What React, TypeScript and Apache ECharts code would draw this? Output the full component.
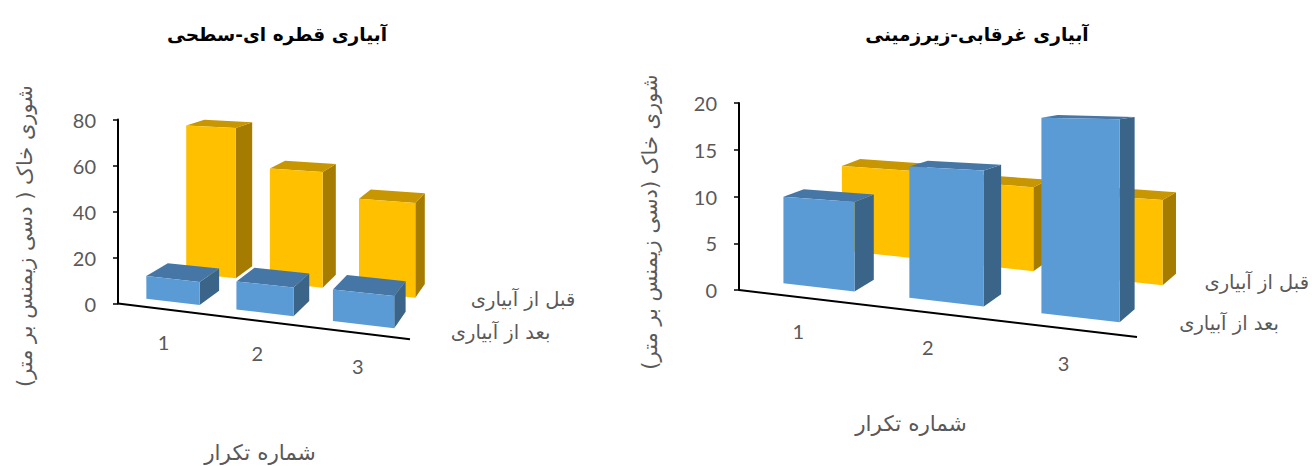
import React, { useEffect, useRef } from "react";
import * as echarts from "echarts";

// ---------- data ----------
const categories = ["1", "2", "3"];
// depth rows: row 0 = front (after irrigation), row 1 = back (before irrigation)
const rowNames = ["بعد از آبیاری", "قبل از آبیاری"];

const dripTitle = "آبیاری قطره ای-سطحی";
const dripBefore = [71, 53, 42];
const dripAfter = [10, 12, 13];
const dripAxis = { min: 0, max: 80, interval: 20 };
const dripYTitle = "شوری خاک ( دسی زیمنس بر متر)";

const floodTitle = "آبیاری غرقابی-زیرزمینی";
const floodBefore = [10.6, 9.7, 9.3];
const floodAfter = [9.5, 13.6, 19];
const floodAxis = { min: 0, max: 20, interval: 5 };
const floodYTitle = "شوری خاک (دسی زیمنس بر متر)";

const xTitle = "شماره تکرار";

// ---------- styling / view ----------
const PAL = {
  before: { front: "#FFC000", top: "#C79600", side: "#A67C00" },
  after: { front: "#5B9BD5", top: "#4676A6", side: "#3A6589" },
};
const GREY = "#595959";
const FA = "'DejaVu Sans', sans-serif";
const NUM = "Lato, 'Open Sans', sans-serif";

type Cfg = {
  theta: number; phi: number; d: number; dv: number;
  bw: number; bd: number; rd: number; zg: number;
  catOff: [number, number]; rowOff: [number, number][];
};

const leftCfg: Cfg = {
  theta: 24, phi: 16, d: 12, dv: 12, bw: 0.6, bd: 0.62, rd: 1.2, zg: 0.29,
  catOff: [1, 33], rowOff: [[80, 10], [84, 7]],
};
const rightCfg: Cfg = {
  theta: 25, phi: 14.7, d: 18, dv: 7.1, bw: 0.57, bd: 0.38, rd: 1.13, zg: 0.32,
  catOff: [-3, 34], rowOff: [[72, 4], [59, 0]],
};

function project(cfg: Cfg, O: number[], L: number, x: number, z: number, h: number) {
  const t = (cfg.theta * Math.PI) / 180;
  const p = (cfg.phi * Math.PI) / 180;
  const ct = Math.cos(t), st = Math.sin(t), sp = Math.sin(p);
  const s3 = cfg.d / (cfg.d - 3 * st);
  const F = L / (s3 * 3 * ct);
  const Xp = x * ct + z * st;
  const Dp = -x * st + z * ct;
  const s = cfg.d / (cfg.d + Dp);
  const sv = cfg.dv / (cfg.dv + Dp);
  return [O[0] + F * s * Xp, O[1] - F * s * Dp * sp - h * sv];
}

function frameOf(api: any) {
  const O = api.coord([0, 0]);
  const E = api.coord([3, 0]);
  return { O, L: E[0] - O[0] };
}

function barRenderer(cfg: Cfg, row: number, pal: { front: string; top: string; side: string }) {
  return (_params: any, api: any) => {
    const i = api.value(0) as number;
    const v = api.value(1) as number;
    const { O, L } = frameOf(api);
    const h = O[1] - api.coord([0, v])[1];
    const P = (x: number, z: number, hh: number) => project(cfg, O, L, x, z, hh);
    const x0 = i + (1 - cfg.bw) / 2, x1 = x0 + cfg.bw;
    const z0 = row * cfg.rd + cfg.zg, z1 = z0 + cfg.bd;
    const front = [P(x0, z0, 0), P(x1, z0, 0), P(x1, z0, h), P(x0, z0, h)];
    const side = [P(x1, z0, 0), P(x1, z1, 0), P(x1, z1, h), P(x1, z0, h)];
    const top = [P(x0, z0, h), P(x1, z0, h), P(x1, z1, h), P(x0, z1, h)];
    return {
      type: "group",
      children: [
        { type: "polygon", shape: { points: side }, style: { fill: pal.side } },
        { type: "polygon", shape: { points: top }, style: { fill: pal.top } },
        { type: "polygon", shape: { points: front }, style: { fill: pal.front } },
      ],
    };
  };
}

function frameRenderer(cfg: Cfg) {
  return (_params: any, api: any) => {
    const i = api.value(0) as number;
    const { O, L } = frameOf(api);
    const c = project(cfg, O, L, i + 0.5, 0, 0);
    const children: any[] = [
      {
        type: "text",
        x: c[0] + cfg.catOff[0],
        y: c[1] + cfg.catOff[1],
        style: {
          text: categories[i], fill: GREY, font: `20px ${NUM}`,
          align: "center", verticalAlign: "middle",
        },
      },
    ];
    if (i === 0) {
      const e = project(cfg, O, L, 3, 0, 0);
      children.unshift({
        type: "line",
        shape: { x1: O[0], y1: O[1], x2: e[0], y2: e[1] },
        style: { stroke: "#000", lineWidth: 2 },
      });
    }
    return { type: "group", children };
  };
}

function rowLabelRenderer(cfg: Cfg) {
  return (_params: any, api: any) => {
    const r = api.value(0) as number;
    const { O, L } = frameOf(api);
    const p = project(cfg, O, L, 3, r * cfg.rd + cfg.zg + cfg.bd / 2, 0);
    return {
      type: "text",
      x: p[0] + cfg.rowOff[r][0],
      y: p[1] + cfg.rowOff[r][1],
      style: {
        text: rowNames[r], fill: GREY, font: `19.5px ${FA}`,
        align: "center", verticalAlign: "middle",
      },
    };
  };
}

function yAxisOf(gridIndex: number, ax: { min: number; max: number; interval: number }) {
  return {
    type: "value",
    gridIndex,
    min: ax.min,
    max: ax.max,
    interval: ax.interval,
    axisLine: { show: true, lineStyle: { color: "#000", width: 2 } },
    axisTick: { show: true, length: 5, lineStyle: { color: "#000", width: 1.5 } },
    axisLabel: { margin: 22, color: GREY, fontSize: 20, fontFamily: NUM },
    splitLine: { show: false },
  };
}

function seriesFor(idx: number, cfg: Cfg, before: number[], after: number[]) {
  const base = { type: "custom", xAxisIndex: idx, yAxisIndex: idx, clip: false, silent: true };
  return [
    { ...base, renderItem: frameRenderer(cfg), data: categories.map((_c, i) => [i, 0]) },
    { ...base, renderItem: rowLabelRenderer(cfg), data: rowNames.map((_n, r) => [r, 0]) },
    { ...base, name: rowNames[1], renderItem: barRenderer(cfg, 1, PAL.before), data: before.map((v, i) => [i, v]) },
    { ...base, name: rowNames[0], renderItem: barRenderer(cfg, 0, PAL.after), data: after.map((v, i) => [i, v]) },
  ];
}

export default function App() {
  const ref = useRef<HTMLDivElement>(null);
  useEffect(() => {
    if (!ref.current) return;
    const chart = echarts.init(ref.current, undefined, { renderer: "svg" });
    chart.setOption({
      animation: false,
      backgroundColor: "#fff",
      grid: [
        { left: 118, top: 119.5, width: 292, height: 184, containLabel: false, outerBoundsMode: "none" },
        { left: 739, top: 103, width: 398, height: 187, containLabel: false, outerBoundsMode: "none" },
      ],
      xAxis: [
        { type: "value", gridIndex: 0, min: 0, max: 3, show: false },
        { type: "value", gridIndex: 1, min: 0, max: 3, show: false },
      ],
      yAxis: [yAxisOf(0, dripAxis), yAxisOf(1, floodAxis)],
      series: [...seriesFor(0, leftCfg, dripBefore, dripAfter), ...seriesFor(1, rightCfg, floodBefore, floodAfter)],
      graphic: [
        { type: "text", x: 277, y: 34, style: { text: dripTitle, fill: "#000", font: `bold 18.5px ${FA}`, align: "center", verticalAlign: "middle" } },
        { type: "text", x: 977, y: 34, style: { text: floodTitle, fill: "#000", font: `bold 18.5px ${FA}`, align: "center", verticalAlign: "middle" } },
        { type: "text", x: 25, y: 236, rotation: Math.PI / 2, style: { text: dripYTitle, fill: GREY, font: `21px ${FA}`, align: "center", verticalAlign: "middle" } },
        { type: "text", x: 650, y: 222, rotation: Math.PI / 2, style: { text: floodYTitle, fill: GREY, font: `21px ${FA}`, align: "center", verticalAlign: "middle" } },
        { type: "text", x: 260, y: 452, style: { text: xTitle, fill: GREY, font: `21.5px ${FA}`, align: "center", verticalAlign: "middle" } },
        { type: "text", x: 911, y: 423, style: { text: xTitle, fill: GREY, font: `21.5px ${FA}`, align: "center", verticalAlign: "middle" } },
      ],
    });
    return () => chart.dispose();
  }, []);
  return (
    <div
      ref={ref}
      style={{ position: "fixed", left: 0, top: 0, width: 1312, height: 466, background: "#fff" }}
    />
  );
}
